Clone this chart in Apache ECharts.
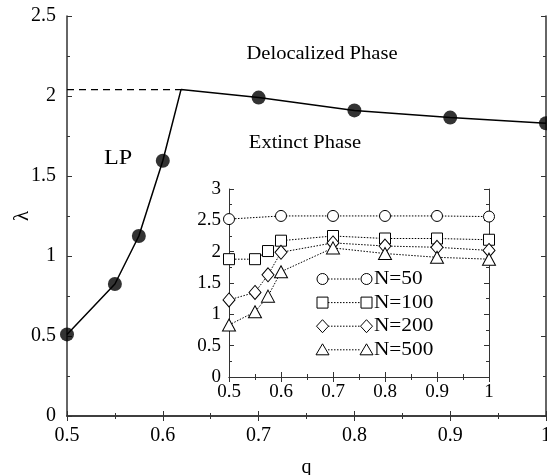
<!DOCTYPE html>
<html>
<head>
<meta charset="utf-8">
<script src="https://cdn.jsdelivr.net/npm/echarts@6/dist/echarts.min.js"></script>
<style>
  html, body { margin: 0; padding: 0; background: #fff; }
  #chart { width: 547px; height: 475px; }
</style>
</head>
<body>
<div id="chart"></div>
<script>
// main panel: phase boundary (q, lambda)
const boundaryQ   = [0.5, 0.55, 0.575, 0.6, 0.619, 0.7, 0.8, 0.9, 1.0];
const boundaryLam = [0.51, 0.825, 1.125, 1.595, 2.04, 1.99, 1.91, 1.865, 1.83];
const criticalQ = 0.619;   // kink of the boundary, no marker there
const criticalLam = 2.04;

// inset: lambda_c for several system sizes
const insetQ50 = [0.5, 0.6, 0.7, 0.8, 0.9, 1.0];
const insetN50 = [2.52, 2.57, 2.57, 2.57, 2.57, 2.56];
const insetQ = [0.5, 0.55, 0.575, 0.6, 0.7, 0.8, 0.9, 1.0];
const insetN100 = [1.88, 1.88, 2.01, 2.175, 2.25, 2.21, 2.21, 2.19];
const insetN200 = [1.23, 1.35, 1.63, 1.99, 2.14, 2.09, 2.07, 2.02];
const insetN500 = [0.83, 1.04, 1.29, 1.68, 2.06, 1.97, 1.91, 1.88];
const legendLabels = ["N=50", "N=100", "N=200", "N=500"];

const FONT = "Liberation Serif";

function pairs(xs, ys) {
    return xs.map((x, i) => [x, ys[i]]);
}

// axes helper
function axis(o) {
    return Object.assign({
        type: "value",
        axisLine: { show: true, lineStyle: { color: "#333", width: 1.5 } },
        axisTick: { show: true, inside: true, length: 5, lineStyle: { color: "#333" } },
        minorTick: { show: true, splitNumber: 2, length: 3, lineStyle: { color: "#333" } },
        splitLine: { show: false },
        axisLabel: { show: false },
    }, o);
}

const mainLabel = { show: true, color: "#000", fontFamily: FONT, fontSize: 20 };
const insetLabel = { show: true, color: "#000", fontFamily: FONT, fontSize: 19 };
const thin = { show: true, lineStyle: { color: "#333", width: 1 } };

let chart = echarts.init(document.getElementById("chart"));

// legend drawn by hand: marker ... marker  label
const legendShapes = ["circle", "rect", "diamond", "triangle"];
function marker(kind, cx, cy) {
    let style = { fill: "#fff", stroke: "#000", lineWidth: 1 };
    if (kind === "circle") return { type: "circle", shape: { cx: cx, cy: cy, r: 5.5 }, style: style };
    if (kind === "rect") return { type: "rect", shape: { x: cx - 5.5, y: cy - 5.5, width: 11, height: 11 }, style: style };
    if (kind === "diamond") return { type: "polygon", shape: { points: [[cx, cy - 6.5], [cx + 6, cy], [cx, cy + 6.5], [cx - 6, cy]] }, style: style };
    return { type: "polygon", shape: { points: [[cx, cy - 6], [cx + 6.5, cy + 5], [cx - 6.5, cy + 5]] }, style: style };
}
let legendGraphics = [];
legendLabels.forEach((lab, i) => {
    let y = 279 + i * 23.6;
    legendGraphics.push({ type: "line", shape: { x1: 328, y1: y, x2: 361, y2: y },
        style: { stroke: "#000", lineWidth: 1, lineDash: [1.5, 1.5] }, z: 100 });
    let a = marker(legendShapes[i], 322.5, y); a.z = 101;
    let b = marker(legendShapes[i], 366.5, y); b.z = 101;
    legendGraphics.push(a, b);
    legendGraphics.push({ type: "text", x: 374, y: y, z: 101, scaleX: 1.12,
        style: { text: lab, fill: "#000", font: "19px " + FONT, verticalAlign: "middle" } });
});

let insetSeries = (name, xs, ys, sym, size) => ({
    name: name, type: "line", xAxisIndex: 2, yAxisIndex: 2,
    data: pairs(xs, ys), symbol: sym, symbolSize: size,
    lineStyle: { color: "#000", width: 1, type: [1.5, 1.5] },
    itemStyle: { color: "#fff", borderColor: "#000", borderWidth: 1 },
    z: 20
});

chart.setOption({
    animation: false,
    backgroundColor: "#fff",
    textStyle: { fontFamily: FONT },
    grid: [
        { left: 67, top: 16, right: 1, bottom: 59, outerBoundsMode: "none", containLabel: false },
        { left: 229, top: 189, right: 58, bottom: 98, outerBoundsMode: "none", containLabel: false,
          show: true, backgroundColor: "#fff", borderWidth: 0, z: 10 }
    ],
    xAxis: [
        axis({ gridIndex: 0, min: 0.5, max: 1, interval: 0.1,
            axisLabel: Object.assign({ margin: 10 }, mainLabel),
            name: "q", nameLocation: "middle", nameGap: 42, nameMoveOverlap: false,
            nameTextStyle: { color: "#000", fontFamily: FONT, fontSize: 20 } }),
        axis({ gridIndex: 0, min: 0.5, max: 1, interval: 0.1, position: "top" }),
        axis({ gridIndex: 1, min: 0.5, max: 1, interval: 0.1, z: 11,
            axisLine: thin, axisLabel: Object.assign({ margin: 6 }, insetLabel) }),
        axis({ gridIndex: 1, min: 0.5, max: 1, interval: 0.1, position: "top", z: 11, axisLine: thin })
    ],
    yAxis: [
        axis({ gridIndex: 0, min: 0, max: 2.5, interval: 0.5,
            axisLabel: Object.assign({ margin: 11 }, mainLabel),
            name: "λ", nameLocation: "middle", nameGap: 34, nameRotate: 90, nameMoveOverlap: false,
            nameTextStyle: { color: "#000", fontFamily: FONT, fontSize: 21 } }),
        axis({ gridIndex: 0, min: 0, max: 2.5, interval: 0.5, position: "right" }),
        axis({ gridIndex: 1, min: 0, max: 3, interval: 0.5, z: 11,
            axisLine: thin, axisLabel: Object.assign({ margin: 8 }, insetLabel) }),
        axis({ gridIndex: 1, min: 0, max: 3, interval: 0.5, position: "right", z: 11, axisLine: thin })
    ],
    series: [
        {
            type: "line", xAxisIndex: 0, yAxisIndex: 0,
            data: pairs(boundaryQ, boundaryLam), showSymbol: false,
            lineStyle: { color: "#000", width: 1.5 }
        },
        {
            type: "line", xAxisIndex: 0, yAxisIndex: 0,
            data: [[boundaryQ[0], criticalLam], [criticalQ, criticalLam]], showSymbol: false,
            lineStyle: { color: "#000", width: 1.2, type: [7, 5] }
        },
        {
            type: "scatter", xAxisIndex: 0, yAxisIndex: 0,
            data: pairs(boundaryQ, boundaryLam).filter(p => p[0] !== criticalQ),
            symbol: "circle", symbolSize: 14, itemStyle: { color: "#000" }
        },
        insetSeries("N=50", insetQ50, insetN50, "circle", 11),
        insetSeries("N=100", insetQ, insetN100, "rect", 11),
        insetSeries("N=200", insetQ, insetN200, "diamond", [12, 14]),
        insetSeries("N=500", insetQ, insetN500, "triangle", [13, 12])
    ],
    graphic: [
        { type: "text", x: 322, y: 54, scaleX: 1.08, style: { text: "Delocalized Phase", fill: "#000", font: "19px " + FONT, align: "center", verticalAlign: "middle" } },
        { type: "text", x: 305, y: 143, scaleX: 1.08, style: { text: "Extinct Phase", fill: "#000", font: "19px " + FONT, align: "center", verticalAlign: "middle" } },
        { type: "text", x: 118, y: 158, scaleX: 1.1, style: { text: "LP", fill: "#000", font: "22px " + FONT, align: "center", verticalAlign: "middle" } }
    ].concat(legendGraphics)
});
</script>
</body>
</html>
